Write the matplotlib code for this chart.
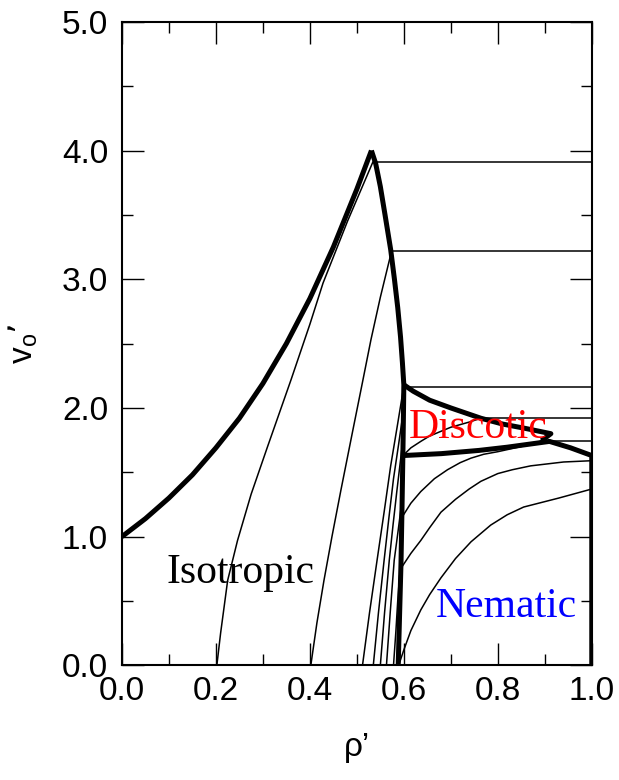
import matplotlib
matplotlib.use("Agg")
import matplotlib.pyplot as plt
from matplotlib.ticker import MultipleLocator, FormatStrFormatter

plt.rcParams['font.family'] = ['Liberation Sans', 'DejaVu Sans']
plt.rcParams['mathtext.default'] = 'regular'

# ---- thick phase boundaries ----
iso_left_x = [0.0, 0.05, 0.10, 0.15, 0.20, 0.25, 0.30, 0.35, 0.40, 0.45, 0.50, 0.531]
iso_left_v = [1.0, 1.14, 1.30, 1.48, 1.69, 1.92, 2.19, 2.50, 2.85, 3.25, 3.70, 4.0]

iso_right_x = [0.531, 0.540, 0.550, 0.560, 0.572, 0.580, 0.587, 0.593, 0.597, 0.600,
               0.599, 0.598, 0.596, 0.594, 0.591, 0.588]
iso_right_v = [4.0, 3.90, 3.72, 3.50, 3.23, 3.00, 2.78, 2.55, 2.35, 2.18,
               1.90, 1.64, 1.20, 0.80, 0.40, 0.0]

disc_top_x = [0.600, 0.620, 0.655, 0.700, 0.764, 0.810, 0.860, 0.913, 0.893]
disc_top_v = [2.18, 2.13, 2.06, 2.00, 1.92, 1.875, 1.84, 1.80, 1.745]

disc_bot_x = [0.598, 0.680, 0.760, 0.820, 0.870, 0.910, 0.955, 1.0, 1.0]
disc_bot_v = [1.63, 1.645, 1.67, 1.695, 1.72, 1.74, 1.69, 1.63, 0.0]

# ---- thin curves ----
thin_curves = {
    "iso_020": ([0.202, 0.210, 0.225, 0.246, 0.275, 0.310, 0.360, 0.400, 0.428, 0.480, 0.534],
                [0.0, 0.25, 0.66, 0.97, 1.33, 1.70, 2.22, 2.65, 2.97, 3.45, 3.91]),
    "iso_040": ([0.402, 0.415, 0.430, 0.447, 0.466, 0.490, 0.512, 0.530, 0.550, 0.574],
                [0.0, 0.33, 0.66, 1.00, 1.36, 1.80, 2.20, 2.53, 2.86, 3.22]),
    "iso_051": ([0.512, 0.527, 0.543, 0.558, 0.572, 0.587, 0.600],
                [0.0, 0.41, 0.816, 1.19, 1.55, 1.88, 2.17]),
    "iso_053": ([0.535, 0.546, 0.558, 0.568, 0.578, 0.589, 0.598],
                [0.0, 0.41, 0.816, 1.14, 1.45, 1.72, 1.95]),
    "iso_055": ([0.550, 0.559, 0.569, 0.577, 0.585, 0.597],
                [0.0, 0.41, 0.816, 1.09, 1.35, 1.72]),
    "iso_056": ([0.563, 0.571, 0.5795, 0.588, 0.595],
                [0.0, 0.41, 0.816, 1.05, 1.25]),
    "iso_058": ([0.578, 0.583, 0.587, 0.591],
                [0.0, 0.26, 0.50, 0.70]),
    "nem_A": ([0.589, 0.600, 0.615, 0.636, 0.655, 0.679, 0.710, 0.743, 0.785, 0.820,
               0.855, 0.930, 1.0],
              [0.0, 0.12, 0.27, 0.43, 0.55, 0.68, 0.83, 0.96, 1.09, 1.17,
               1.23, 1.30, 1.37]),
    "nem_B": ([0.595, 0.615, 0.636, 0.655, 0.679, 0.710, 0.739, 0.764, 0.800, 0.831,
               0.870, 0.940, 1.0],
              [0.76, 0.87, 0.97, 1.07, 1.19, 1.29, 1.37, 1.43, 1.49, 1.52,
               1.55, 1.58, 1.59]),
    "nem_C": ([0.596, 0.615, 0.636, 0.665, 0.693, 0.720, 0.743, 0.770, 0.800, 0.850,
               0.890, 0.913],
              [1.15, 1.26, 1.35, 1.45, 1.52, 1.575, 1.61, 1.64, 1.66, 1.70,
               1.74, 1.80]),
    "disc_D": ([0.601, 0.615, 0.636, 0.654, 0.680, 0.700, 0.739, 0.764],
               [1.64, 1.69, 1.74, 1.78, 1.82, 1.85, 1.89, 1.92]),
}

# ---- tie lines (horizontal) ----
tie_levels = [3.91, 3.22, 2.165, 1.92, 1.74]
tie_starts = [0.535, 0.574, 0.600, 0.764, 0.905]
tie_end = 1.0

fig = plt.figure(figsize=(6.19, 7.80), dpi=100)
ax = fig.add_axes([0.197, 0.147, 0.759, 0.825])

for name, (xs, vs) in thin_curves.items():
    ax.plot(xs, vs, color='black', lw=1.1, solid_capstyle='butt',
            solid_joinstyle='round')

for lv, xs0 in zip(tie_levels, tie_starts):
    ax.plot([xs0, tie_end], [lv, lv], color='black', lw=1.1)

thick = dict(color='black', lw=3.6, solid_joinstyle='round', solid_capstyle='butt')
ax.plot(iso_left_x, iso_left_v, **thick)
ax.plot(iso_right_x, iso_right_v, **thick)
ax.plot(disc_top_x, disc_top_v, **thick)
ax.plot(disc_bot_x, disc_bot_v, **thick)

ax.set_xlim(0.0, 1.0)
ax.set_ylim(0.0, 5.0)
ax.xaxis.set_major_locator(MultipleLocator(0.2))
ax.xaxis.set_minor_locator(MultipleLocator(0.1))
ax.yaxis.set_major_locator(MultipleLocator(1.0))
ax.yaxis.set_minor_locator(MultipleLocator(0.5))
ax.xaxis.set_major_formatter(FormatStrFormatter('%.1f'))
ax.yaxis.set_major_formatter(FormatStrFormatter('%.1f'))
ax.tick_params(which='both', direction='in', top=True, right=True, width=1.0)
ax.tick_params(which='major', length=16, labelsize=24)
ax.tick_params(which='minor', length=8)
ax.tick_params(axis='x', which='major', pad=8)
ax.tick_params(axis='y', which='major', pad=10)
for s in ax.spines.values():
    s.set_linewidth(1.5)

ax.set_xlabel('ρ’', fontsize=24, labelpad=18)
ax.set_ylabel('v$_{o}$’', fontsize=24, labelpad=16)

serif = ['Liberation Serif', 'DejaVu Serif']
ax.text(0.094, 0.64, 'Isotropic', fontsize=30, family=serif, color='black',
        ha='left', va='baseline')
ax.text(0.61, 1.765, 'Discotic', fontsize=30, family=serif, color='#ff0000',
        ha='left', va='baseline')
ax.text(0.668, 0.376, 'Nematic', fontsize=30, family=serif, color='#0000ff',
        ha='left', va='baseline')

fig.savefig('out.png', dpi=100)
